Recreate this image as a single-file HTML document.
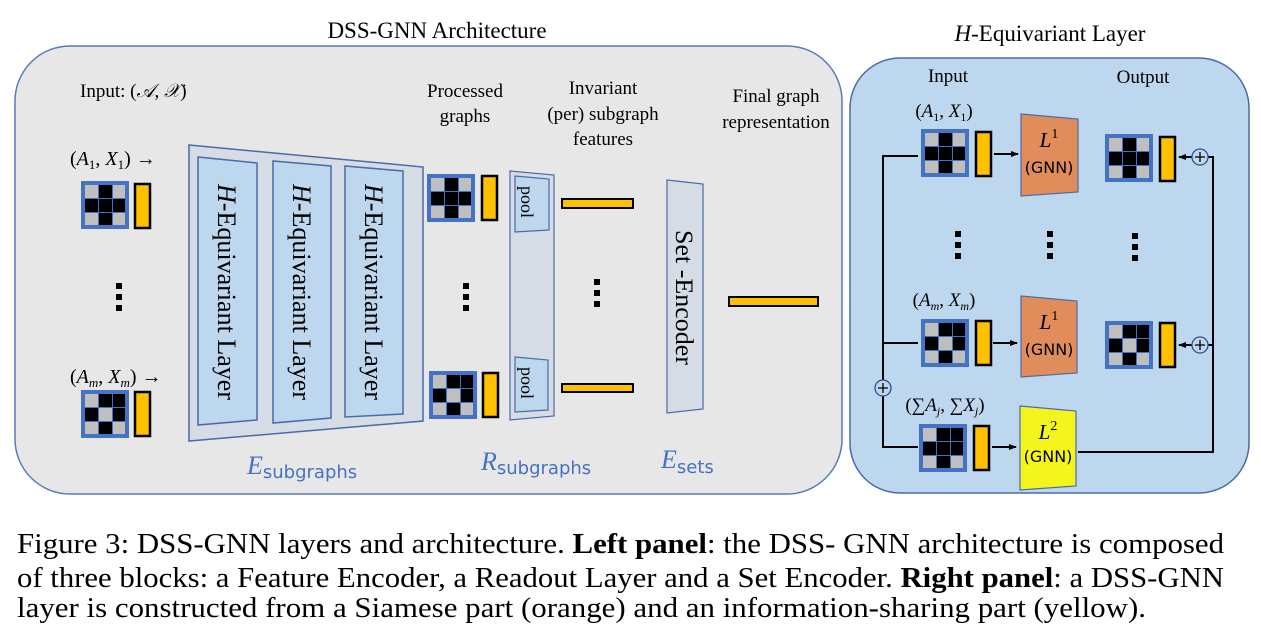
<!DOCTYPE html>
<html><head><meta charset="utf-8"><style>
html,body{margin:0;padding:0;background:#fff;}
svg{display:block;}
.s{font-family:"Liberation Serif",serif;}
.a{font-family:"DejaVu Sans","Liberation Sans",sans-serif;}
</style></head><body>
<svg width="1261" height="633" viewBox="0 0 1261 633" xmlns="http://www.w3.org/2000/svg">
<defs>
<g id="m1">
<rect x="0" y="0" width="48" height="48" fill="#4472c4"/>
<rect x="4" y="4" width="13" height="13" fill="#bfbfbf"/><rect x="18" y="4" width="13" height="13" fill="#000"/><rect x="32" y="4" width="12" height="13" fill="#bfbfbf"/>
<rect x="4" y="18" width="13" height="13" fill="#000"/><rect x="18" y="18" width="13" height="13" fill="#000"/><rect x="32" y="18" width="12" height="13" fill="#000"/>
<rect x="4" y="32" width="13" height="12" fill="#bfbfbf"/><rect x="18" y="32" width="13" height="12" fill="#000"/><rect x="32" y="32" width="12" height="12" fill="#bfbfbf"/>
</g>
<g id="m2">
<rect x="0" y="0" width="48" height="48" fill="#4472c4"/>
<rect x="4" y="4" width="13" height="13" fill="#bfbfbf"/><rect x="18" y="4" width="13" height="13" fill="#000"/><rect x="32" y="4" width="12" height="13" fill="#000"/>
<rect x="4" y="18" width="13" height="13" fill="#000"/><rect x="18" y="18" width="13" height="13" fill="#bfbfbf"/><rect x="32" y="18" width="12" height="13" fill="#000"/>
<rect x="4" y="32" width="13" height="12" fill="#bfbfbf"/><rect x="18" y="32" width="13" height="12" fill="#000"/><rect x="32" y="32" width="12" height="12" fill="#bfbfbf"/>
</g>
<g id="m3">
<rect x="0" y="0" width="48" height="48" fill="#4472c4"/>
<rect x="4" y="4" width="13" height="13" fill="#bfbfbf"/><rect x="18" y="4" width="13" height="13" fill="#000"/><rect x="32" y="4" width="12" height="13" fill="#000"/>
<rect x="4" y="18" width="13" height="13" fill="#000"/><rect x="18" y="18" width="13" height="13" fill="#000"/><rect x="32" y="18" width="12" height="13" fill="#000"/>
<rect x="4" y="32" width="13" height="12" fill="#bfbfbf"/><rect x="18" y="32" width="13" height="12" fill="#000"/><rect x="32" y="32" width="12" height="12" fill="#bfbfbf"/>
</g>
<rect id="bar" x="1" y="1" width="15" height="44" fill="#ffc000" stroke="#000" stroke-width="2.5"/>
<g id="dots"><rect x="0" y="0" width="6" height="6"/><rect x="0" y="11" width="6" height="6"/><rect x="0" y="22" width="6" height="6"/></g>
<marker id="ar" markerWidth="8" markerHeight="8" refX="7" refY="4" orient="auto" markerUnits="userSpaceOnUse"><path d="M0,1 L8,4 L0,7 Z" fill="#000"/></marker>
</defs>

<text x="437" y="38" class="s" font-size="23" text-anchor="middle">DSS-GNN Architecture</text>
<text x="1050" y="41" class="s" font-size="23" text-anchor="middle"><tspan font-style="italic">H</tspan>-Equivariant Layer</text>

<rect x="15" y="46" width="827" height="448" rx="55" fill="#e7e7e7" stroke="#5b7bb5" stroke-width="1.5"/>
<text x="80" y="97" class="s" font-size="19">Input:  (<tspan font-style="italic">𝒜</tspan>, <tspan font-style="italic">𝒳</tspan>)</text>
<text x="70" y="165" class="s" font-size="20">(<tspan font-style="italic">A</tspan><tspan font-size="13" dy="4">1</tspan><tspan dy="-4">, </tspan><tspan font-style="italic">X</tspan><tspan font-size="13" dy="4">1</tspan><tspan dy="-4">) →</tspan></text>
<use href="#m1" x="81" y="181"/><use href="#bar" x="134" y="183"/>
<use href="#dots" x="116" y="283"/>
<text x="70" y="383" class="s" font-size="20">(<tspan font-style="italic">A</tspan><tspan font-size="13" dy="4" font-style="italic">m</tspan><tspan dy="-4">, </tspan><tspan font-style="italic">X</tspan><tspan font-size="13" dy="4" font-style="italic">m</tspan><tspan dy="-4">) →</tspan></text>
<use href="#m2" x="81" y="390"/><use href="#bar" x="134" y="391"/>

<polygon points="189,145 423,167 423,421 189,441" fill="#d6dce5" stroke="#4a6aa8" stroke-width="1.5"/>
<polygon points="198,157 257,163 257,420 198,425" fill="#bdd7ee" stroke="#4a6aa8" stroke-width="1.5"/>
<polygon points="273,161 331,166 331,418 273,423" fill="#bdd7ee" stroke="#4a6aa8" stroke-width="1.5"/>
<polygon points="345,166 403,171 403,414 345,417" fill="#bdd7ee" stroke="#4a6aa8" stroke-width="1.5"/>
<text transform="translate(218,184) rotate(90)" class="s" font-size="26" textLength="216" lengthAdjust="spacingAndGlyphs"><tspan font-style="italic">H</tspan>-Equivariant Layer</text>
<text transform="translate(293,184) rotate(90)" class="s" font-size="26" textLength="216" lengthAdjust="spacingAndGlyphs"><tspan font-style="italic">H</tspan>-Equivariant Layer</text>
<text transform="translate(365,184) rotate(90)" class="s" font-size="26" textLength="216" lengthAdjust="spacingAndGlyphs"><tspan font-style="italic">H</tspan>-Equivariant Layer</text>

<text x="465" y="97" class="s" font-size="19" text-anchor="middle">Processed</text>
<text x="465" y="122" class="s" font-size="19" text-anchor="middle">graphs</text>
<use href="#m1" x="427" y="174"/><use href="#bar" x="481" y="175"/>
<use href="#dots" x="463" y="283"/>
<use href="#m2" x="429" y="371"/><use href="#bar" x="482" y="372"/>

<polygon points="510,171 554,175 554,416 510,420" fill="#d6dce5" stroke="#4a6aa8" stroke-width="1.2"/>
<polygon points="515,176 549,179 549,230 515,232" fill="#bdd7ee" stroke="#4a6aa8" stroke-width="1.2"/>
<polygon points="515,357 548,360 548,410 515,412" fill="#bdd7ee" stroke="#4a6aa8" stroke-width="1.2"/>
<text transform="translate(521,186) rotate(90)" class="s" font-size="18">pool</text>
<text transform="translate(521,367) rotate(90)" class="s" font-size="18">pool</text>

<text x="603" y="94" class="s" font-size="19" text-anchor="middle">Invariant</text>
<text x="603" y="120" class="s" font-size="19" text-anchor="middle">(per) subgraph</text>
<text x="603" y="145" class="s" font-size="19" text-anchor="middle">features</text>
<rect x="562" y="199" width="71" height="9" fill="#ffc000" stroke="#000" stroke-width="2"/>
<rect x="562" y="384" width="71" height="8" fill="#ffc000" stroke="#000" stroke-width="2"/>
<use href="#dots" x="594" y="279"/>

<polygon points="667,180 703,184 703,409 667,413" fill="#d6dce5" stroke="#4a6aa8" stroke-width="1.2"/>
<text transform="translate(676,230) rotate(90)" class="s" font-size="25" textLength="135" lengthAdjust="spacingAndGlyphs">Set -Encoder</text>

<text x="776" y="102" class="s" font-size="19" text-anchor="middle">Final graph</text>
<text x="776" y="128" class="s" font-size="19" text-anchor="middle">representation</text>
<rect x="729" y="297" width="89" height="9" fill="#ffc000" stroke="#000" stroke-width="2"/>

<text x="247" y="474" class="s" font-size="26" fill="#4472c4" font-style="italic">E<tspan font-style="normal" font-family="DejaVu Sans" font-size="18" dy="4">subgraphs</tspan></text>
<text x="481" y="470" class="s" font-size="26" fill="#4472c4" font-style="italic">R<tspan font-style="normal" font-family="DejaVu Sans" font-size="18" dy="4">subgraphs</tspan></text>
<text x="661" y="468" class="s" font-size="26" fill="#4472c4" font-style="italic">E<tspan font-style="normal" font-family="DejaVu Sans" font-size="18" dy="5">sets</tspan></text>

<rect x="850" y="58" width="399" height="435" rx="50" fill="#bdd7ee" stroke="#4a6aa8" stroke-width="1.5"/>
<text x="948" y="82" class="s" font-size="19" text-anchor="middle">Input</text>
<text x="1143" y="83" class="s" font-size="19" text-anchor="middle">Output</text>

<text x="944" y="117" class="s" font-size="19" text-anchor="middle">(<tspan font-style="italic">A</tspan><tspan font-size="12" dy="4">1</tspan><tspan dy="-4">, </tspan><tspan font-style="italic">X</tspan><tspan font-size="12" dy="4">1</tspan><tspan dy="-4">)</tspan></text>
<text x="944" y="306" class="s" font-size="19" text-anchor="middle">(<tspan font-style="italic">A</tspan><tspan font-size="12" dy="4" font-style="italic">m</tspan><tspan dy="-4">, </tspan><tspan font-style="italic">X</tspan><tspan font-size="12" dy="4" font-style="italic">m</tspan><tspan dy="-4">)</tspan></text>
<text x="945" y="411" class="s" font-size="19" text-anchor="middle">(∑<tspan font-style="italic">A</tspan><tspan font-size="12" dy="4" font-style="italic">j</tspan><tspan dy="-4">, ∑</tspan><tspan font-style="italic">X</tspan><tspan font-size="12" dy="4" font-style="italic">j</tspan><tspan dy="-4">)</tspan></text>

<g stroke="#000" stroke-width="2" fill="none">
<polyline points="918,156 883,156 883,447 918,447"/>
<line x1="883" y1="343" x2="918" y2="343"/>
<polyline points="1078,452 1213,452 1213,157 1208,157"/>
<line x1="1213" y1="345" x2="1208" y2="345"/>
<line x1="994" y1="154" x2="1018" y2="154" marker-end="url(#ar)"/>
<line x1="993" y1="343" x2="1017" y2="343" marker-end="url(#ar)"/>
<line x1="992" y1="447" x2="1016" y2="447" marker-end="url(#ar)"/>
<line x1="1192" y1="157" x2="1179" y2="157" marker-end="url(#ar)"/>
<line x1="1192" y1="345" x2="1179" y2="345" marker-end="url(#ar)"/>
</g>
<g fill="#bdd7ee" stroke="#2f4f8f" stroke-width="1.3">
<circle cx="1200" cy="157" r="8"/><circle cx="1200" cy="345" r="8"/><circle cx="883" cy="388" r="8"/>
</g>
<g stroke="#000" stroke-width="1.3">
<path d="M1195,157h10M1200,152v10M1195,345h10M1200,340v10M878,388h10M883,383v10"/>
</g>

<use href="#m1" x="921" y="129"/><use href="#bar" x="975" y="131"/>
<use href="#m2" x="921" y="319"/><use href="#bar" x="975" y="320"/>
<use href="#m3" x="919" y="424"/><use href="#bar" x="973" y="425"/>
<use href="#m1" x="1105" y="134"/><use href="#bar" x="1159" y="136"/>
<use href="#m2" x="1105" y="321"/><use href="#bar" x="1159" y="322"/>

<polygon points="1021,114 1078,119 1078,192 1021,196" fill="#e08d5b" stroke="#4a6aa8" stroke-width="1.2"/>
<polygon points="1021,296 1077,301 1077,373 1021,377" fill="#e08d5b" stroke="#4a6aa8" stroke-width="1.2"/>
<polygon points="1020,406 1076,411 1076,486 1020,490" fill="#f5f51e" stroke="#4a6aa8" stroke-width="1.2"/>
<text x="1049" y="147" class="s" font-size="21" text-anchor="middle" font-style="italic">L<tspan font-style="normal" font-size="14" dy="-9">1</tspan></text>
<text x="1049" y="173" class="a" font-size="16" text-anchor="middle">(GNN)</text>
<text x="1049" y="329" class="s" font-size="21" text-anchor="middle" font-style="italic">L<tspan font-style="normal" font-size="14" dy="-9">1</tspan></text>
<text x="1049" y="355" class="a" font-size="16" text-anchor="middle">(GNN)</text>
<text x="1048" y="439" class="s" font-size="21" text-anchor="middle" font-style="italic">L<tspan font-style="normal" font-size="14" dy="-9">2</tspan></text>
<text x="1048" y="462" class="a" font-size="16" text-anchor="middle">(GNN)</text>

<use href="#dots" x="955" y="231"/>
<use href="#dots" x="1047" y="231"/>
<use href="#dots" x="1132" y="233"/>

<text x="17" y="553" class="s" font-size="28" textLength="1207" lengthAdjust="spacingAndGlyphs">Figure 3: DSS-GNN layers and architecture. <tspan font-weight="bold">Left panel</tspan>: the DSS- GNN architecture is composed</text>
<text x="17" y="587" class="s" font-size="28" textLength="1207" lengthAdjust="spacingAndGlyphs">of three blocks: a Feature Encoder, a Readout Layer and a Set Encoder. <tspan font-weight="bold">Right panel</tspan>: a DSS-GNN</text>
<text x="17" y="617" class="s" font-size="28" textLength="1129" lengthAdjust="spacingAndGlyphs">layer is constructed from a Siamese part (orange) and an information-sharing part (yellow).</text>
</svg>
</body></html>
